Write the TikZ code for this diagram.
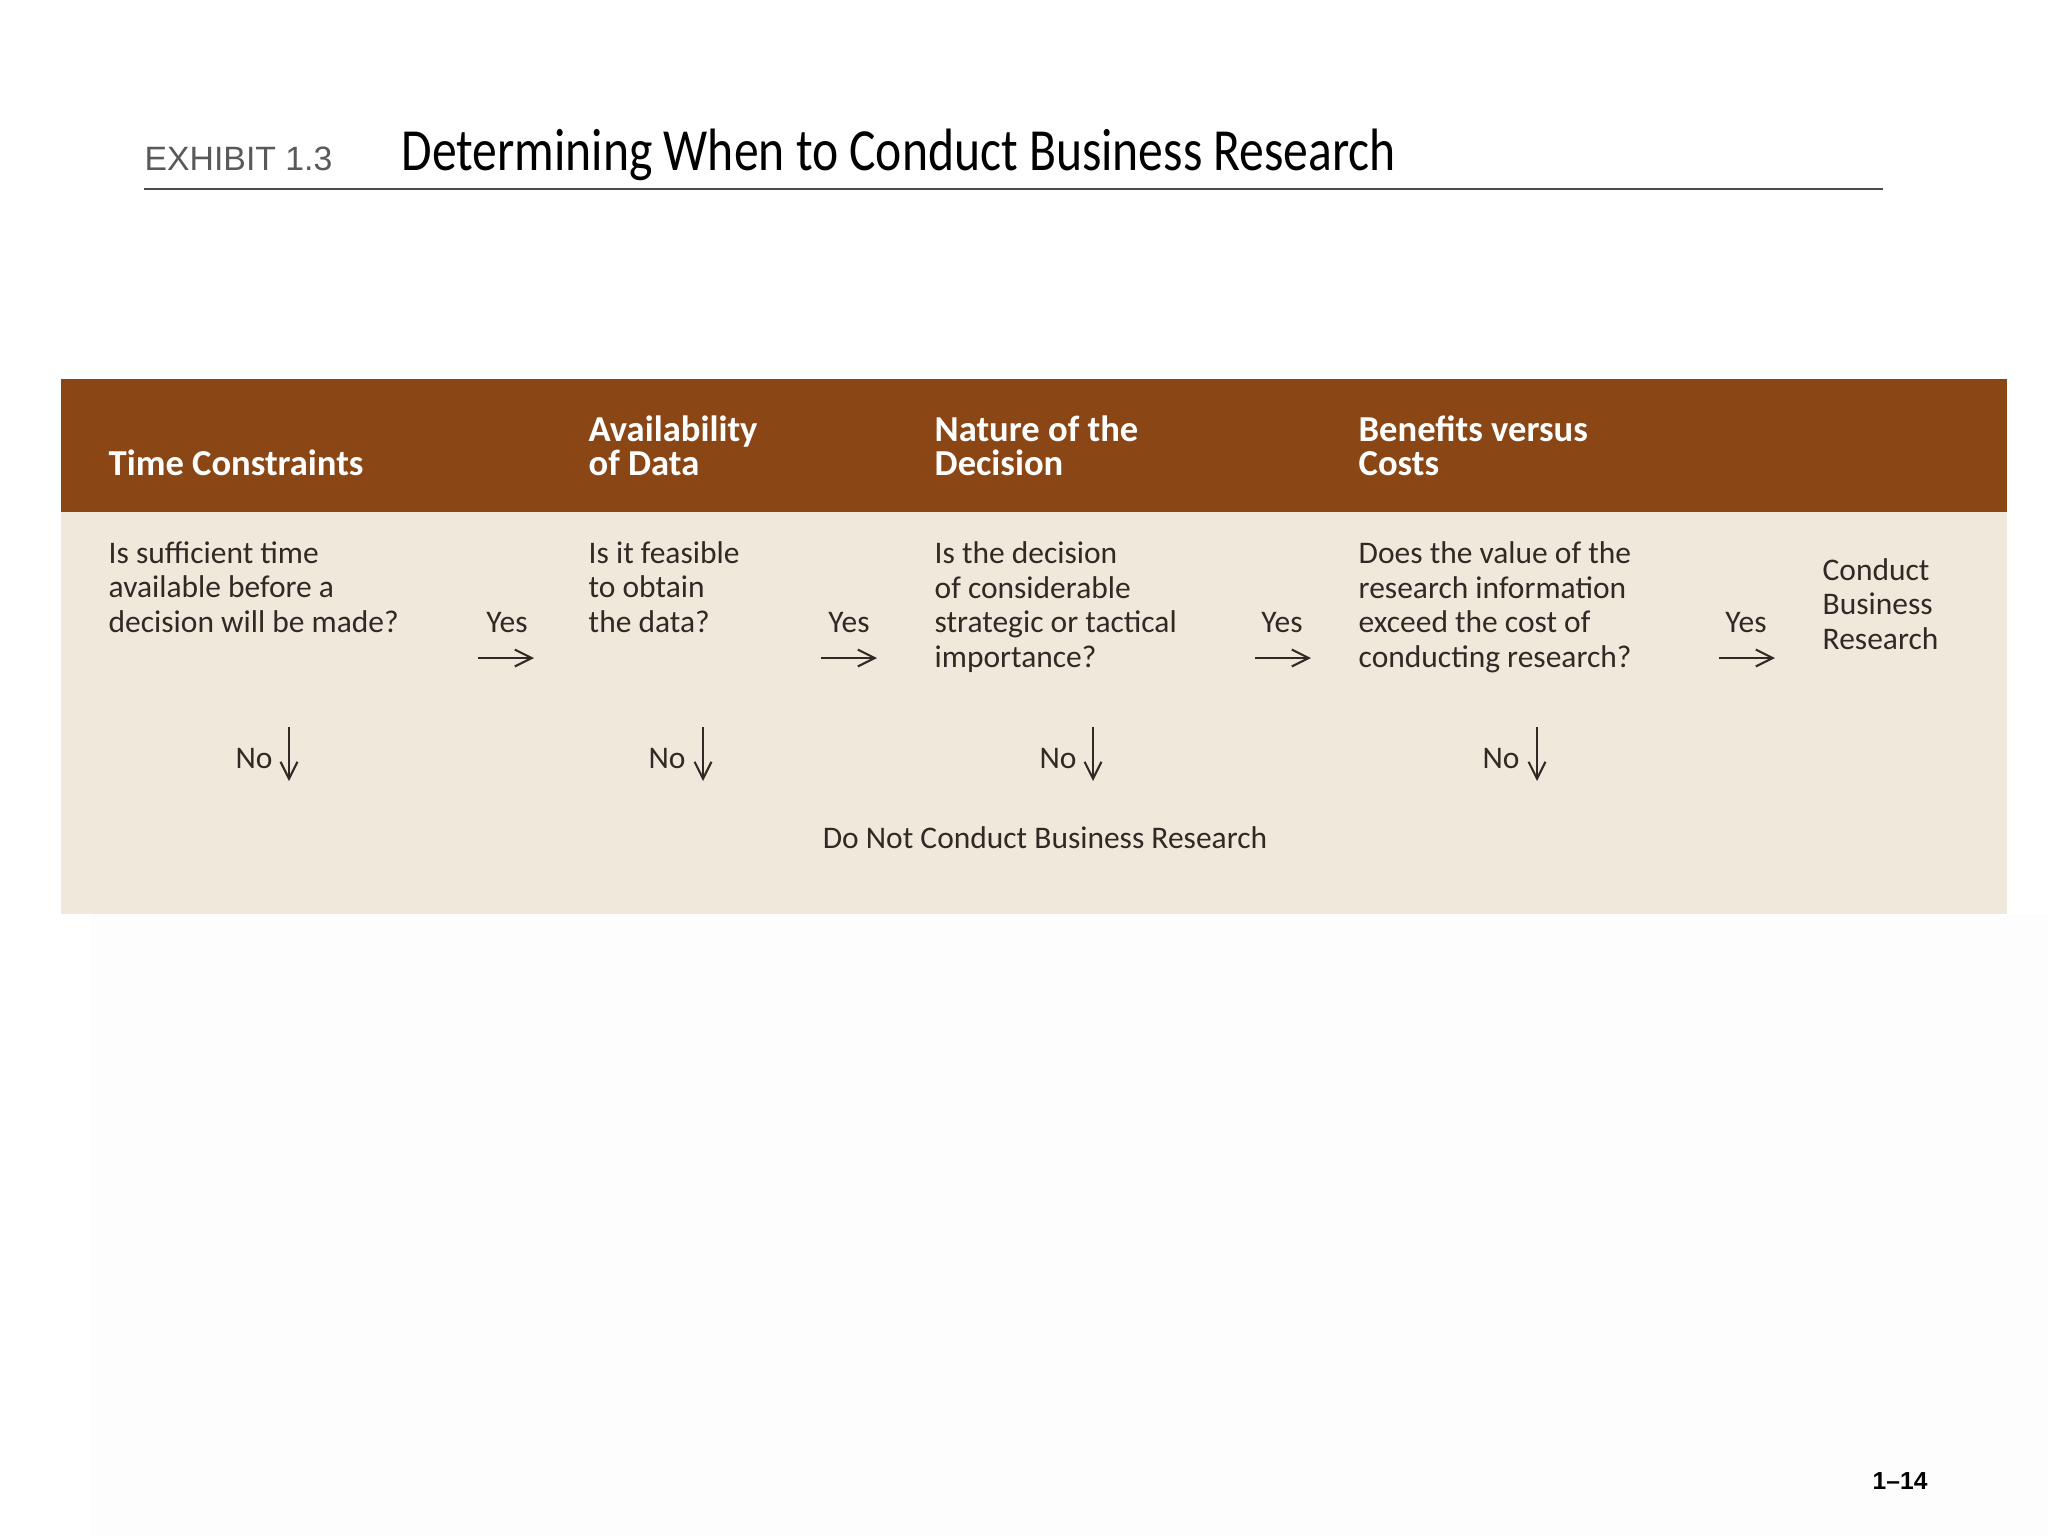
\documentclass[tikz,border=0pt]{standalone}
\usepackage{fontspec}
\setmainfont{Carlito}
\newfontfamily\arialfont{Liberation Sans}
\newfontfamily\titlefont[FakeStretch=0.83]{Carlito}
\usetikzlibrary{arrows.meta}
\definecolor{bandbrown}{RGB}{139,70,22}
\definecolor{bandcream}{RGB}{241,232,220}
\definecolor{inkgray}{RGB}{48,42,36}
\tikzstyle{head} = [anchor=base west, align=left, inner sep=0pt, text=white,
    font=\fontsize{10.4}{9.4}\selectfont\bfseries]
\tikzstyle{ask} = [anchor=base west, align=left, inner sep=0pt, text=inkgray,
    font=\fontsize{8.95}{9.8}\selectfont]
\tikzstyle{answer} = [anchor=base, inner sep=0pt, text=inkgray,
    font=\fontsize{8.95}{9.8}\selectfont]
\tikzstyle{line} = [draw=inkgray, line width=0.6pt, -{Straight Barb[length=4.8pt,width=4.8pt]}]

\begin{document}
\begin{tikzpicture}[x=0.01cm, y=-0.01cm]
    \useasboundingbox (0,0) rectangle (2048,1536);
    \fill[white] (0,0) rectangle (2048,1536);
    \fill[black!0.8] (91,914) rectangle (2048,1536);
    % Title
    \node [anchor=base west, inner sep=0pt, text=black!65,
        font=\arialfont\fontsize{9.6}{11}\selectfont] (exhibit) at (144,170) {EXHIBIT 1.3};
    \node [anchor=base west, inner sep=0pt,
        font=\titlefont\fontsize{17}{20}\selectfont] (title) at (401,170) {Determining When to Conduct Business Research};
    \draw [black!70, line width=0.7pt] (144,189) -- (1883,189);
    % Band
    \fill [bandbrown] (61,379) rectangle (2007,512);
    \fill [bandcream] (61,512) rectangle (2007,914);
    % Headings (base = last line)
    \node [head] (time) at (108,475) {Time Constraints};
    \node [head] (avail) at (588,475) {Availability\\of Data};
    \node [head] (nature) at (934,475) {Nature of the\\Decision};
    \node [head] (benefit) at (1358,475) {Benefits versus\\Costs};
    % Questions
    \node [ask] (q1) at (108,632) {Is sufficient time\\available before a\\decision will be made?};
    \node [ask] (q2) at (588,632) {Is it feasible\\to obtain\\the data?};
    \node [ask] (q3) at (934,667) {Is the decision\\of considerable\\strategic or tactical\\importance?};
    \node [ask] (q4) at (1358,667) {Does the value of the\\research information\\exceed the cost of\\conducting research?};
    \node [ask] (go) at (1822,649) {Conduct\\Business\\Research};
    \node [answer] (stop) at (1045,848) {Do Not Conduct Business Research};
    % Yes answers
    \node [answer] (yes1) at (507,632) {Yes};
    \node [answer] (yes2) at (849,632) {Yes};
    \node [answer] (yes3) at (1282,632) {Yes};
    \node [answer] (yes4) at (1746,632) {Yes};
    \coordinate (y1a) at (478,658); \coordinate (y1b) at (534,658);
    \coordinate (y2a) at (821,658); \coordinate (y2b) at (877,658);
    \coordinate (y3a) at (1255,658); \coordinate (y3b) at (1311,658);
    \coordinate (y4a) at (1719,658); \coordinate (y4b) at (1775,658);
    \path [line] (y1a) -- (y1b);
    \path [line] (y2a) -- (y2b);
    \path [line] (y3a) -- (y3b);
    \path [line] (y4a) -- (y4b);
    % No answers
    \node [answer] (no1) at (254,768) {No};
    \node [answer] (no2) at (667,768) {No};
    \node [answer] (no3) at (1058,768) {No};
    \node [answer] (no4) at (1501,768) {No};
    \coordinate (n1a) at (289,727); \coordinate (n1b) at (289,781);
    \coordinate (n2a) at (703,727); \coordinate (n2b) at (703,781);
    \coordinate (n3a) at (1093,727); \coordinate (n3b) at (1093,781);
    \coordinate (n4a) at (1537,727); \coordinate (n4b) at (1537,781);
    \path [line] (n1a) -- (n1b);
    \path [line] (n2a) -- (n2b);
    \path [line] (n3a) -- (n3b);
    \path [line] (n4a) -- (n4b);
    % Page number
    \node [anchor=base west, inner sep=0pt, font=\arialfont\fontsize{7}{8}\selectfont\bfseries] (page) at (1872,1489) {1\textendash14};
\end{tikzpicture}
\end{document}
